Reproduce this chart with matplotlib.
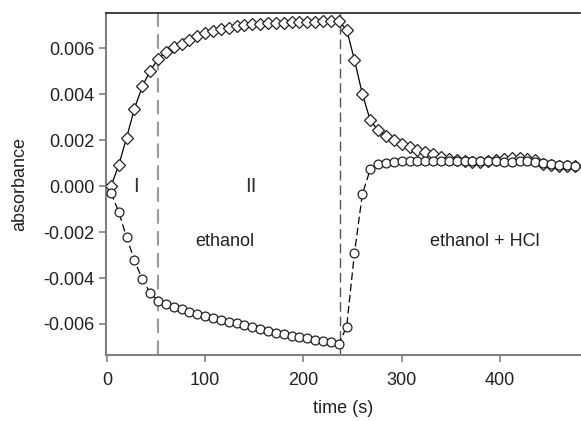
import matplotlib
matplotlib.use("Agg")
import matplotlib.pyplot as plt

plt.rcParams['font.family'] = ['Liberation Sans', 'DejaVu Sans']

time_s = [4 + 8 * k for k in range(60)]

diamond = [
    0.00000, 0.00091, 0.00212, 0.00338, 0.00435, 0.00502, 0.00555, 0.00584,
    0.00606, 0.00620, 0.00635, 0.00655, 0.00668, 0.00675, 0.00685, 0.00690,
    0.00696, 0.00703, 0.00705, 0.00707, 0.00709, 0.00710, 0.00711, 0.00713,
    0.00715, 0.00716, 0.00717, 0.00718, 0.00718, 0.00719,
    0.00681, 0.00550, 0.00401, 0.00288, 0.00243, 0.00217, 0.00200, 0.00186,
    0.00171, 0.00157, 0.00150, 0.00142, 0.00128, 0.00118, 0.00112, 0.00108,
    0.00106, 0.00106, 0.00108, 0.00115, 0.00120, 0.00122, 0.00122, 0.00120,
    0.00112, 0.00098, 0.00092, 0.00090, 0.00090, 0.00088,
]

circle = [
    -0.00028, -0.00112, -0.00223, -0.00322, -0.00406, -0.00464, -0.00499, -0.00513,
    -0.00525, -0.00536, -0.00546, -0.00557, -0.00565, -0.00574, -0.00583, -0.00590,
    -0.00597, -0.00606, -0.00615, -0.00622, -0.00629, -0.00638, -0.00643, -0.00651,
    -0.00657, -0.00663, -0.00669, -0.00675, -0.00680, -0.00687,
    -0.00612, -0.00290, -0.00035, 0.00073, 0.00096, 0.00103, 0.00106, 0.00108,
    0.00110, 0.00110, 0.00110, 0.00110, 0.00110, 0.00110, 0.00110, 0.00110,
    0.00110, 0.00110, 0.00110, 0.00108, 0.00106, 0.00106, 0.00108, 0.00108,
    0.00106, 0.00102, 0.00096, 0.00093, 0.00091, 0.00090,
]

phase_bounds = [52, 237]
xticks = [0, 100, 200, 300, 400]
yticks = [-0.006, -0.004, -0.002, 0.0, 0.002, 0.004, 0.006]
ytick_labels = ['-0.006', '-0.004', '-0.002', '0.000', '0.002', '0.004', '0.006']

fig = plt.figure(figsize=(5.81, 4.21), dpi=100)
ax = fig.add_axes([0.1824, 0.1568, 0.8166, 0.8116])

ax.axvline(phase_bounds[0], color='#9a9a9a', lw=1.5, dashes=(7, 3.5), zorder=1)
ax.axvline(phase_bounds[1], color='#555555', lw=1.0, dashes=(7, 3.5), zorder=1)

ax.plot(time_s, diamond, color='black', lw=0.9, marker='D', markersize=5.8,
        markerfacecolor='white', markeredgecolor='#222222', markeredgewidth=0.9, zorder=3)
ax.plot(time_s, circle, color='black', lw=0.9, dashes=(6, 3), marker='o', markersize=6.4,
        markerfacecolor='white', markeredgecolor='#222222', markeredgewidth=0.9, zorder=3)

ax.set_xlim(-1, 482)
ax.set_ylim(-0.00735, 0.00753)
ax.set_xticks(xticks)
ax.set_xticklabels([str(v) for v in xticks])
ax.set_yticks(yticks)
ax.set_yticklabels(ytick_labels)

for s in ['left', 'bottom']:
    ax.spines[s].set_color('#808080')
    ax.spines[s].set_linewidth(1.5)
ax.spines['top'].set_color('#222222')
ax.spines['top'].set_linewidth(1.2)
ax.spines['right'].set_visible(False)

ax.tick_params(axis='both', direction='out', length=5, width=1.2, color='#808080',
               labelsize=13, labelcolor='#222222')
ax.tick_params(axis='x', pad=7)
ax.tick_params(axis='y', pad=3)

ax.set_xlabel('time (s)', fontsize=13, color='#222222', labelpad=8)
ax.set_ylabel('absorbance', fontsize=13, color='#222222', labelpad=11)

ax.text(30, 0.0, 'I', fontsize=15, color='#333333', ha='center', va='center')
ax.text(147, 0.0, 'II', fontsize=15, color='#333333', ha='center', va='center')
ax.text(120, -0.0024, 'ethanol', fontsize=13, color='#222222', ha='center', va='center')
ax.text(385, -0.0024, 'ethanol + HCl', fontsize=13, color='#222222', ha='center', va='center')

fig.savefig('out.png', dpi=100)
